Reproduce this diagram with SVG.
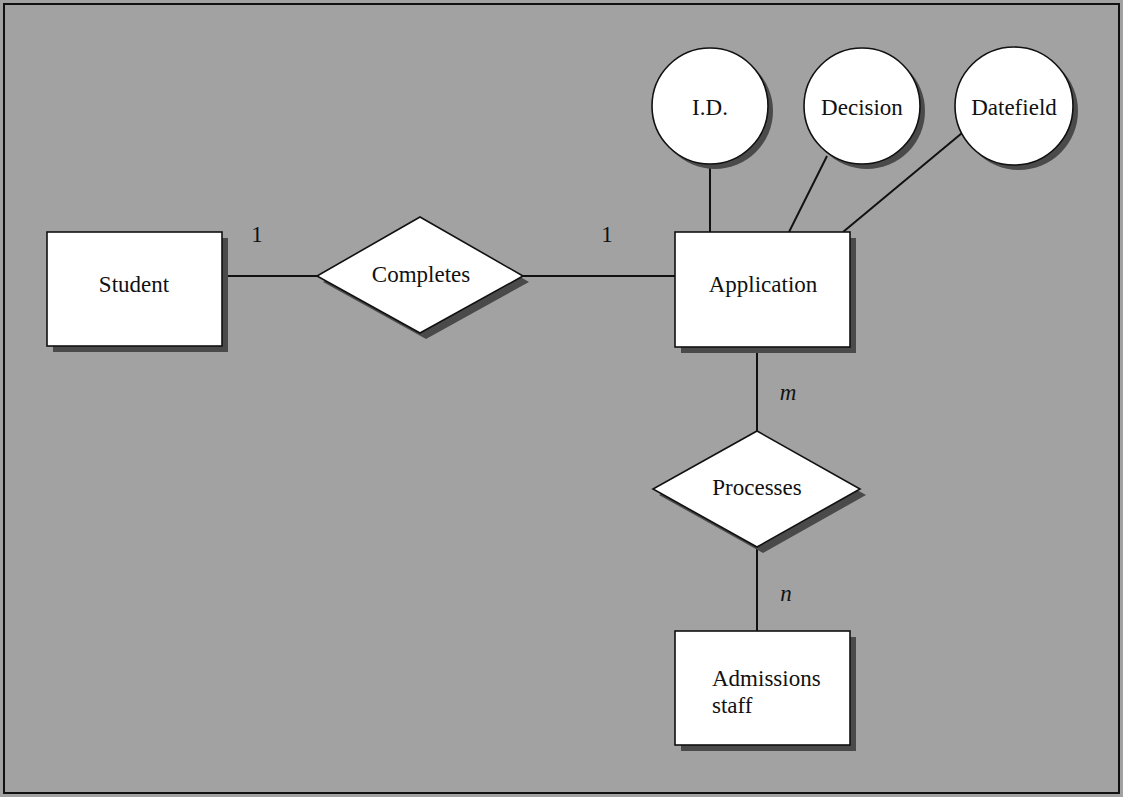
<svg xmlns="http://www.w3.org/2000/svg" width="1123" height="797" viewBox="0 0 1123 797">
<style>
.bg{fill:#a2a2a2}
.frame{fill:none;stroke:#111;stroke-width:2}
.shape{fill:#fff;stroke:#111;stroke-width:1.6}
.shadow{fill:#4a4a4a}
.conn line{stroke:#111;stroke-width:2}
text{font-family:"Liberation Serif","Times New Roman",serif;font-size:23px;fill:#111}
.c{text-anchor:middle}
.i{font-style:italic}
</style>
<rect class="bg" x="0" y="0" width="1123" height="797"/>
<rect class="frame" x="4" y="4" width="1115" height="789"/>
<g class="conn" id="connectors">
<line x1="222" y1="276" x2="317" y2="276"/>
<line x1="523" y1="276" x2="675" y2="276"/>
<line x1="710" y1="165" x2="710" y2="232"/>
<line x1="827" y1="156" x2="789" y2="232"/>
<line x1="962" y1="133" x2="843" y2="232"/>
<line x1="757" y1="347" x2="757" y2="431"/>
<line x1="757" y1="547" x2="757" y2="631"/>
<text x="257" y="242" class="c">1</text>
<text x="607" y="242" class="c">1</text>
<text x="788" y="400" class="c i">m</text>
<text x="786" y="601" class="c i">n</text>
</g>
<g id="student">
<rect class="shadow" x="53" y="238" width="175" height="114"/>
<rect class="shape" x="47" y="232" width="175" height="114"/>
<text x="134" y="292" class="c">Student</text>
</g>
<g id="completes">
<polygon class="shadow" points="426,223 529,282 426,339 323,282"/>
<polygon class="shape" points="420,217 523,276 420,333 317,276"/>
<text x="421" y="282" class="c">Completes</text>
</g>
<g id="application">
<rect class="shadow" x="681" y="238" width="175" height="115"/>
<rect class="shape" x="675" y="232" width="175" height="115"/>
<text x="763" y="292" class="c">Application</text>
</g>
<g id="id">
<circle class="shadow" cx="715" cy="111" r="58"/>
<circle class="shape" cx="710" cy="106" r="58"/>
<text x="710" y="115" class="c">I.D.</text>
</g>
<g id="decision">
<circle class="shadow" cx="867" cy="111" r="58"/>
<circle class="shape" cx="862" cy="106" r="58"/>
<text x="862" y="115" class="c">Decision</text>
</g>
<g id="datefield">
<circle class="shadow" cx="1019" cy="111" r="59"/>
<circle class="shape" cx="1014" cy="106" r="59"/>
<text x="1014" y="115" class="c">Datefield</text>
</g>
<g id="processes">
<polygon class="shadow" points="763,437 866,495 763,553 659,495"/>
<polygon class="shape" points="757,431 860,489 757,547 653,489"/>
<text x="757" y="495" class="c">Processes</text>
</g>
<g id="admissions">
<rect class="shadow" x="681" y="637" width="175" height="114"/>
<rect class="shape" x="675" y="631" width="175" height="114"/>
<text x="712" y="686">Admissions</text>
<text x="712" y="713">staff</text>
</g>
</svg>
